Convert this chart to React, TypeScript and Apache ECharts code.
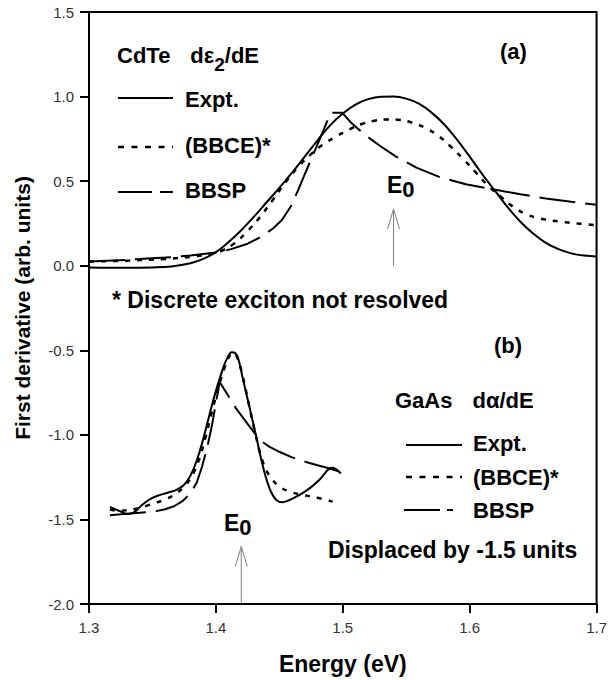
import React, { useEffect, useRef } from 'react';
import * as echarts from 'echarts';

// ---------- data ----------
const xTicks = [1.3, 1.4, 1.5, 1.6, 1.7];
const yTicks = [-2.0, -1.5, -1.0, -0.5, 0.0, 0.5, 1.0, 1.5];

// Panel (a) CdTe dε2/dE
const cdteExpt: number[][] = [
  [1.300, -0.010], [1.330, -0.012], [1.350, -0.010], [1.365, -0.004], [1.380, 0.015], [1.390, 0.040],
  [1.400, 0.080], [1.410, 0.140], [1.420, 0.210], [1.430, 0.290], [1.440, 0.375], [1.450, 0.460],
  [1.460, 0.550], [1.470, 0.645], [1.480, 0.740], [1.490, 0.830], [1.500, 0.900], [1.510, 0.953],
  [1.520, 0.985], [1.530, 0.999], [1.540, 1.000], [1.550, 0.988], [1.560, 0.958], [1.570, 0.905],
  [1.580, 0.835], [1.590, 0.745], [1.600, 0.645], [1.610, 0.540], [1.620, 0.442], [1.630, 0.345],
  [1.640, 0.260], [1.650, 0.190], [1.660, 0.135], [1.670, 0.098], [1.680, 0.073], [1.690, 0.060],
  [1.700, 0.055],
];
const cdteBBCE: number[][] = [
  [1.300, 0.025], [1.330, 0.030], [1.360, 0.040], [1.380, 0.052], [1.395, 0.068], [1.405, 0.090],
  [1.415, 0.135], [1.425, 0.205], [1.435, 0.290], [1.445, 0.390], [1.455, 0.495], [1.465, 0.585],
  [1.475, 0.660], [1.485, 0.720], [1.495, 0.765], [1.505, 0.805], [1.515, 0.838], [1.525, 0.857],
  [1.535, 0.865], [1.545, 0.862], [1.555, 0.845], [1.565, 0.815], [1.575, 0.770], [1.585, 0.705],
  [1.595, 0.630], [1.605, 0.550], [1.615, 0.470], [1.625, 0.405], [1.635, 0.345], [1.645, 0.303],
  [1.655, 0.280], [1.670, 0.262], [1.685, 0.250], [1.700, 0.240],
];
const cdteBBSP: number[][] = [
  [1.300, 0.025], [1.330, 0.035], [1.360, 0.048], [1.380, 0.060], [1.400, 0.078], [1.412, 0.098],
  [1.425, 0.130], [1.435, 0.168], [1.445, 0.220], [1.452, 0.270], [1.459, 0.350], [1.465, 0.450],
  [1.4694, 0.530], [1.4773, 0.668], [1.4851, 0.806], [1.4904, 0.905], [1.4995, 0.905], [1.506, 0.850],
  [1.5125, 0.806], [1.520, 0.760], [1.530, 0.705], [1.542, 0.645], [1.558, 0.580], [1.576, 0.525],
  [1.597, 0.482], [1.618, 0.452], [1.640, 0.422], [1.660, 0.398], [1.680, 0.378], [1.700, 0.360],
];

// Panel (b) GaAs dα/dE (displaced by -1.5)
const gaasExpt: number[][] = [
  [1.3165, -1.426], [1.324, -1.450], [1.331, -1.468], [1.336, -1.455], [1.341, -1.420], [1.347, -1.385],
  [1.354, -1.360], [1.362, -1.342], [1.369, -1.325], [1.375, -1.295], [1.380, -1.240], [1.385, -1.150],
  [1.390, -1.025], [1.395, -0.880], [1.400, -0.740], [1.405, -0.620], [1.409, -0.545], [1.4125, -0.512],
  [1.415, -0.515], [1.418, -0.560], [1.421, -0.660], [1.4263, -0.830], [1.4315, -1.000], [1.4367, -1.175],
  [1.442, -1.310], [1.447, -1.380], [1.452, -1.398], [1.458, -1.385], [1.466, -1.355], [1.474, -1.315],
  [1.482, -1.262], [1.4916, -1.195], [1.4985, -1.228],
];
const gaasBBCE: number[][] = [
  [1.3165, -1.440], [1.323, -1.450], [1.330, -1.446], [1.338, -1.435], [1.345, -1.420], [1.352, -1.403],
  [1.360, -1.382], [1.368, -1.350], [1.376, -1.298], [1.382, -1.230], [1.387, -1.140], [1.392, -1.010],
  [1.397, -0.860], [1.402, -0.720], [1.407, -0.600], [1.411, -0.530], [1.414, -0.515], [1.417, -0.545],
  [1.421, -0.650], [1.426, -0.820], [1.431, -0.990], [1.437, -1.160], [1.443, -1.250], [1.450, -1.305],
  [1.458, -1.335], [1.468, -1.355], [1.480, -1.372], [1.492, -1.395],
];
const gaasBBSP: number[][] = [
  [1.3165, -1.475], [1.325, -1.470], [1.335, -1.464], [1.345, -1.458], [1.353, -1.451], [1.360, -1.440],
  [1.367, -1.422], [1.374, -1.390], [1.380, -1.345], [1.385, -1.280], [1.389, -1.190], [1.393, -1.080],
  [1.397, -0.940], [1.400, -0.810], [1.403, -0.688], [1.409, -0.760], [1.416, -0.845], [1.425, -0.935],
  [1.4346, -1.030], [1.442, -1.070], [1.450, -1.100], [1.460, -1.133], [1.471, -1.160], [1.480, -1.180],
  [1.4898, -1.199], [1.4985, -1.220],
];

// E0 arrows: [x, yBase, yTip]
const cdteE0Arrow = [1.54, 0.0, 0.335];
const gaasE0Arrow = [1.42, -2.0, -1.66];

const FONT = '"Liberation Sans", Arial, Helvetica, sans-serif';
const TS = 22;

function txt(x: number, y: number, text: string, size = TS, rich?: any) {
  return {
    type: 'text',
    x,
    y,
    silent: true,
    style: {
      text,
      fill: '#000',
      fontFamily: FONT,
      fontWeight: 'bold',
      fontSize: size,
      align: 'left',
      textAlign: 'left',
      verticalAlign: 'middle',
      textVerticalAlign: 'middle',
      rich,
    },
  };
}

function seg(x1: number, y1: number, x2: number, y2: number, dash: any, width = 2, color = '#000') {
  return {
    type: 'line',
    silent: true,
    shape: { x1, y1, x2, y2 },
    style: { stroke: color, lineWidth: width, lineDash: dash },
  };
}

export default function App() {
  const ref = useRef<HTMLDivElement>(null);
  useEffect(() => {
    document.body.style.margin = '0';
    const chart = echarts.init(ref.current!, null, { renderer: 'svg' });
    const lineSeries = (data: number[][], type: any, width: number, smooth: any) => ({
      type: 'line',
      data,
      showSymbol: false,
      symbol: 'none',
      silent: true,
      smooth,
      lineStyle: { color: '#000', width, type, cap: 'butt' },
      z: 3,
    });
    const dotted = [5, 7];
    const dashed = [36, 10];
    const axisCommon = {
      axisLine: { show: true, onZero: false, lineStyle: { color: '#000', width: 2 } },
      axisTick: { show: true, inside: false, length: 9, lineStyle: { color: '#000', width: 2 } },
      axisLabel: {
        margin: 16,
        fontFamily: FONT,
        fontSize: 15,
        color: '#333',
        formatter: (v: number) => v.toFixed(1),
      },
      splitLine: { show: false },
    };
    chart.setOption({
      animation: false,
      backgroundColor: '#fff',
      grid: {
        left: 89,
        right: 12,
        top: 12,
        bottom: 76,
        show: true,
        borderColor: '#000',
        borderWidth: 2,
        backgroundColor: 'transparent',
      },
      xAxis: {
        type: 'value',
        min: xTicks[0],
        max: xTicks[xTicks.length - 1],
        interval: 0.1,
        name: 'Energy (eV)',
        nameLocation: 'middle',
        nameGap: 48,
        nameTextStyle: { fontFamily: FONT, fontWeight: 'bold', fontSize: 23, color: '#000' },
        ...axisCommon,
      },
      yAxis: {
        type: 'value',
        min: yTicks[0],
        max: yTicks[yTicks.length - 1],
        interval: 0.5,
        name: 'First derivative (arb. units)',
        nameLocation: 'middle',
        nameGap: 56,
        nameTextStyle: { fontFamily: FONT, fontWeight: 'bold', fontSize: 21, color: '#000' },
        ...axisCommon,
        axisLabel: { ...axisCommon.axisLabel, margin: 15 },
      },
      series: [
        lineSeries(cdteExpt, 'solid', 2, 0.4),
        lineSeries(cdteBBCE, dotted, 2.5, 0.4),
        lineSeries(cdteBBSP, dashed, 2, false),
        lineSeries(gaasExpt, 'solid', 2, 0.4),
        lineSeries(gaasBBCE, dotted, 2.5, 0.4),
        lineSeries(gaasBBSP, dashed, 2, false),
      ],
    });

    const px = (p: number[]) => chart.convertToPixel({ gridIndex: 0 }, p) as number[];
    const arrow = (a: number[]) => {
      const b = px([a[0], a[1]]);
      const t = px([a[0], a[2]]);
      return [
        seg(b[0], b[1], t[0], t[1], null, 1, '#808080'),
        {
          type: 'polyline',
          silent: true,
          shape: { points: [[t[0] - 6, t[1] + 20], [t[0], t[1]], [t[0] + 6, t[1] + 20]] },
          style: { stroke: '#808080', lineWidth: 1, fill: 'none' },
        },
      ];
    };

    const subRich = (main: number, sub: number, mainLH: number, subLH: number, gap: number) => ({
      m: { fontFamily: FONT, fontWeight: 'bold', fontSize: main, lineHeight: mainLH, verticalAlign: 'middle', fill: '#000', color: '#000' },
      g: { fontFamily: FONT, fontWeight: 'bold', fontSize: main, lineHeight: mainLH, verticalAlign: 'middle', fill: '#000', color: '#000', padding: [0, 0, 0, gap] },
      s: { fontFamily: FONT, fontWeight: 'bold', fontSize: sub, lineHeight: subLH, verticalAlign: 'bottom', fill: '#000', color: '#000' },
    });

    const graphic: any[] = [
      // Panel (a)
      txt(117, 55, '{m|CdTe}{g|dε}{s|2}{m|/dE}', TS, subRich(TS, 19, 38, 14, 20)),
      txt(500, 51, '(a)'),
      seg(118, 98, 173, 98, null, 2),
      txt(185, 99, 'Expt.'),
      seg(118, 147, 173, 147, [6, 7.5], 2.5),
      txt(185, 145, '(BBCE)*'),
      seg(118, 192, 152, 192, null, 2),
      seg(160, 192, 173, 192, null, 2),
      txt(185, 190, 'BBSP'),
      txt(387, 185, '{m|E}{s|0}', 23, subRich(23, 22, 30, 18, 0)),
      ...arrow(cdteE0Arrow),
      txt(112, 300, '* Discrete exciton not resolved', 23),
      // Panel (b)
      txt(494, 345, '(b)'),
      txt(395, 400, '{m|GaAs}{g|dα/dE}', TS, subRich(TS, 19, 30, 14, 20)),
      seg(406, 445, 462, 445, null, 2),
      txt(473, 443, 'Expt.'),
      seg(406, 477, 462, 477, [6, 7.5], 2.5),
      txt(473, 477, '(BBCE)*'),
      seg(404, 510, 440, 510, null, 2),
      seg(447, 510, 453, 510, null, 2),
      txt(473, 510, 'BBSP'),
      txt(328, 550, 'Displaced by -1.5 units', 23),
      txt(224, 523, '{m|E}{s|0}', 23, subRich(23, 22, 30, 18, 0)),
      ...arrow(gaasE0Arrow),
    ];
    chart.setOption({ graphic });

    return () => chart.dispose();
  }, []);
  return <div ref={ref} style={{ width: 610, height: 680 }} />;
}
